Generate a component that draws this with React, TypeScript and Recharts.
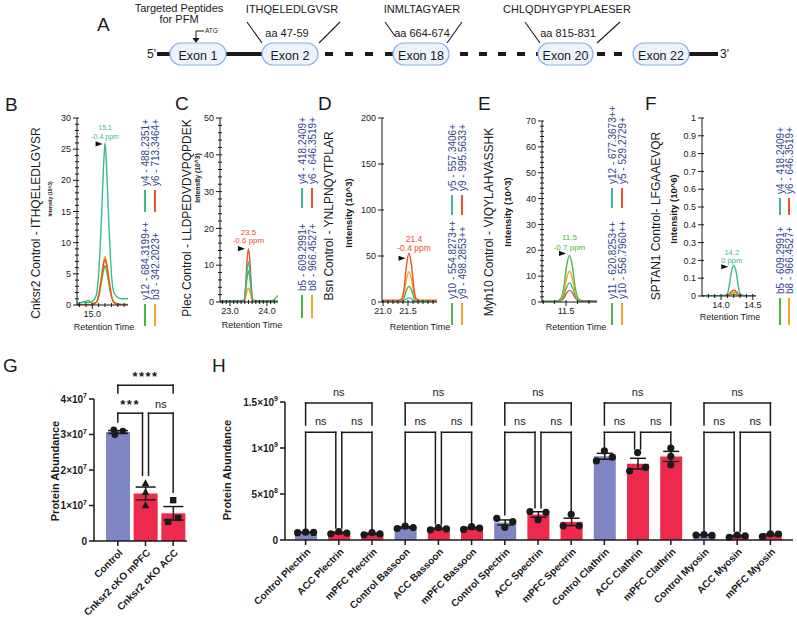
import React from 'react';
import {
  LineChart, Line, XAxis, YAxis, ReferenceDot, ReferenceLine,
  ComposedChart, Bar, Cell, ErrorBar,
} from 'recharts';

const FONT = '"Liberation Sans", Arial, Helvetica, sans-serif';
const INK = '#1a1a1a';
const TEAL = '#3dba8b';
const RED = '#e9532b';
const GREEN = '#47b548';
const ORANGE = '#f7a322';
const LEGEND_INK = '#34458c';
const CTRL = '#7f86c3';
const KO = '#ed2a4b';

// ---------- chromatograms B-F (intensity per retention time) ----------
const B_TIME = [14.88, 14.93, 14.97, 15.0, 15.03, 15.05, 15.07, 15.09, 15.1, 15.11, 15.13, 15.15, 15.17, 15.2, 15.24, 15.28];
const B_Y4 = [0.3, 0.4, 0.4, 0.6, 1.5, 5, 13, 23, 26, 23, 13, 5, 2, 1.2, 1.0, 1.0];
const B_Y6 = [0, 0, 0, 0.1, 0.4, 1.5, 4, 6.7, 7.3, 6.7, 4, 1.5, 0.4, 0.1, 0, 0];
const B_Y12 = [0.2, 0.5, 0.7, 0.3, 0.4, 1.3, 3.5, 5.7, 6.3, 5.7, 3.5, 1.3, 0.5, 0.2, 0.1, 0.1];
const B_B3 = [0, 0, 0, 0.1, 0.4, 1.6, 4.3, 7.1, 7.8, 7.1, 4.3, 1.6, 0.4, 0.1, 0, 0];
const B_IONS = ['y4 - 488.2351+', 'y6 - 713.3464+', 'y12 - 684.3199++', 'b3 - 342.2023+'];

const C_TIME = [22.73, 23.0, 23.25, 23.38, 23.42, 23.46, 23.5, 23.54, 23.58, 23.62, 23.8, 24.0, 24.15, 24.3];
const C_Y4 = [0.2, 0.2, 0.2, 0.4, 3, 8.3, 11, 8.3, 3, 0.4, 0.2, 0.2, 0.2, 0.2];
const C_Y6 = [0.3, 0.3, 0.3, 0.6, 4, 11, 14.5, 11, 4, 0.6, 0.3, 0.3, 0.3, 0.3];
const C_B5 = [0.2, 0.2, 0.2, 0.3, 2.3, 6.4, 8.5, 6.4, 2.3, 0.3, 0.2, 0.2, 0.4, 1.8];
const C_B8 = [0, 0, 0, 0.1, 1, 2.8, 3.8, 2.8, 1, 0.1, 0, 0, 0, 0];
const C_IONS = ['y4 - 418.2409+', 'y6 - 646.3519+', 'b5 - 609.2991+', 'b8 - 966.4527+'];

const D_TIME = [20.98, 21.1, 21.2, 21.3, 21.37, 21.42, 21.47, 21.52, 21.57, 21.62, 21.67, 21.75, 21.82, 21.9, 22.08];
const D_Y5 = [0.3, 0.3, 0.3, 0.3, 0.5, 1.5, 3.5, 4.5, 3.5, 1.5, 0.5, 0.4, 1.5, 0.4, 0.3];
const D_Y9 = [2, 2, 2, 2, 3, 14, 40, 53, 40, 14, 3, 2, 2, 2, 2];
const D_Y10 = [0.5, 0.5, 0.5, 0.5, 1, 4.5, 13, 17, 13, 4.5, 1, 0.5, 0.5, 0.5, 0.5];
const D_Y9PP = [1, 1, 1, 1, 1.8, 9, 25, 33, 25, 9, 1.8, 1, 1, 1, 1];
const D_IONS = ['y5 - 557.3406+', 'y9 - 995.5633+', 'y10 - 554.8273++', 'y9 - 498.2853++'];

const E_TIME = [11.29, 11.36, 11.42, 11.45, 11.48, 11.505, 11.53, 11.555, 11.58, 11.61, 11.64, 11.7, 11.77];
const E_Y12 = [0.2, 0.2, 0.2, 0.5, 2.3, 5.7, 7.4, 5.7, 2.3, 0.5, 0.2, 0.2, 0.2];
const E_Y5 = [0.1, 0.1, 0.2, 0.4, 1.4, 3.5, 4.5, 3.5, 1.5, 0.6, 0.5, 0.4, 0.3];
const E_Y11 = [0.3, 0.3, 0.4, 1.2, 5.5, 14, 18, 14, 5.5, 1.2, 0.5, 0.3, 0.3];
const E_Y10 = [0.2, 0.2, 0.3, 0.8, 3.6, 9.2, 12, 9.2, 3.6, 0.8, 0.3, 0.2, 0.2];
const E_IONS = ['y12 - 677.3673++', 'y5 - 529.2729+', 'y11 - 620.8253++', 'y10 - 556.7960++'];

const F_TIME = [13.7, 13.9, 14.05, 14.1, 14.13, 14.165, 14.2, 14.235, 14.27, 14.3, 14.35, 14.45, 14.55];
const F_Y4 = [0.002, 0.002, 0.003, 0.012, 0.06, 0.14, 0.17, 0.14, 0.06, 0.012, 0.003, 0.002, 0.002];
const F_Y6 = [0.001, 0.001, 0.001, 0.003, 0.012, 0.026, 0.032, 0.026, 0.012, 0.003, 0.001, 0.001, 0.001];
const F_B5 = [0, 0, 0, 0.001, 0.004, 0.009, 0.011, 0.009, 0.004, 0.001, 0, 0, 0];
const F_B8 = [0, 0, 0, 0.002, 0.008, 0.017, 0.021, 0.017, 0.008, 0.002, 0, 0, 0];
const F_IONS = ['y4 - 418.2409+', 'y6 - 646.3519+', 'b5 - 609.2991+', 'b8 - 966.4527+'];

// ---------- G: Cnksr2 abundance ----------
const G_GROUPS = ['Control', 'Cnksr2 cKO mPFC', 'Cnksr2 cKO ACC'];
const G_MEAN = [3.07e7, 1.34e7, 0.78e7];
const G_SEM = [0.04e7, 0.18e7, 0.19e7];
const G_REP1 = [3.13e7, 1.63e7, 1.15e7];
const G_REP2 = [3.10e7, 1.38e7, 0.65e7];
const G_REP3 = [2.99e7, 1.01e7, 0.54e7];
const G_TICKS = [0, 1e7, 2e7, 3e7, 4e7];

// ---------- H: control proteins ----------
const H_GROUPS = [
  'Control Plectrin', 'ACC Plectrin', 'mPFC Plectrin',
  'Control Bassoon', 'ACC Bassoon', 'mPFC Bassoon',
  'Control Spectrin', 'ACC Spectrin', 'mPFC Spectrin',
  'Control Clathrin', 'ACC Clathrin', 'mPFC Clathrin',
  'Control Myosin', 'ACC Myosin', 'mPFC Myosin',
];
const H_MEAN = [0.082e9, 0.078e9, 0.068e9, 0.137e9, 0.122e9, 0.129e9, 0.19e9, 0.277e9, 0.197e9, 0.91e9, 0.83e9, 0.908e9, 0.055e9, 0.043e9, 0.056e9];
const H_SEM = [0.003e9, 0.007e9, 0.007e9, 0.008e9, 0.007e9, 0.009e9, 0.028e9, 0.03e9, 0.04e9, 0.032e9, 0.058e9, 0.055e9, 0.003e9, 0.007e9, 0.01e9];
const H_LEFT = [0.08e9, 0.068e9, 0.057e9, 0.125e9, 0.11e9, 0.115e9, 0.235e9, 0.31e9, 0.155e9, 0.86e9, 0.75e9, 1.0e9, 0.054e9, 0.03e9, 0.036e9];
const H_MID = [0.085e9, 0.09e9, 0.08e9, 0.15e9, 0.135e9, 0.145e9, 0.138e9, 0.22e9, 0.28e9, 0.97e9, 0.95e9, 0.91e9, 0.06e9, 0.054e9, 0.067e9];
const H_RIGHT = [0.082e9, 0.075e9, 0.066e9, 0.135e9, 0.12e9, 0.128e9, 0.2e9, 0.3e9, 0.155e9, 0.9e9, 0.79e9, 0.815e9, 0.05e9, 0.045e9, 0.065e9];
const H_TICKS = [0, 5e8, 1e9, 1.5e9];

const steps = (from: number, to: number, step: number, skip: number[]) => {
  const out: number[] = [];
  for (let v = from; v <= to + 1e-9; v += step) {
    const r = Math.round(v * 1000) / 1000;
    if (!skip.some((s) => Math.abs(s - r) < 1e-6)) out.push(r);
  }
  return out;
};
const isIn = (arr: number[], v: number) => arr.some((a) => Math.abs(a - v) < 1e-6);

type PeakNote = {
  t: number; v: number; color: string; lines: [string, string];
  fs: number; l1: number; l2: number; tri: number; tdx: number; ldx: number;
};

type ChromProps = {
  time: number[]; series: number[][];
  xDomain: [number, number]; xMajor: number[]; xMinor: number[];
  yDomain: [number, number]; yMajor: number[]; yMinor: number[];
  axisX: number; right: number; top: number; bottom: number;
  peak: PeakNote;
};

function Chrom({ time, series, xDomain, xMajor, xMinor, yDomain, yMajor, yMinor, axisX, right, top, bottom, peak }: ChromProps) {
  const data = time.map((t, i) => ({ t, s0: series[0][i], s1: series[1][i], s2: series[2][i], s3: series[3][i] }));
  const YW = 30, MT = 8, MR = 12, XH = 30;
  const left = axisX - YW;
  const chartTop = top - MT;
  const width = right + MR - left;
  const height = bottom - chartTop + XH;
  const colors = [TEAL, RED, GREEN, ORANGE];

  const yTick = (p: any) => {
    const v = p.payload.value as number;
    const maj = isIn(yMajor, v);
    return (
      <g>
        <line x1={maj ? p.x - 4 : p.x - 2} x2={p.x + 2} y1={p.y} y2={p.y} stroke={INK} strokeWidth={1} />
        {maj && (
          <text x={p.x - 6} y={p.y} dy="0.35em" textAnchor="end" fontSize={9} fill="#222" fontFamily={FONT}>
            {String(parseFloat(v.toFixed(2)))}
          </text>
        )}
      </g>
    );
  };
  const xTick = (p: any) => {
    const v = p.payload.value as number;
    const maj = isIn(xMajor, v);
    return (
      <g>
        <line x1={p.x} x2={p.x} y1={p.y - 2} y2={maj ? p.y + 4 : p.y + 2} stroke={INK} strokeWidth={1} />
        {maj && (
          <text x={p.x} y={p.y + 12} textAnchor="middle" fontSize={9} fill="#222" fontFamily={FONT}>
            {v.toFixed(1)}
          </text>
        )}
      </g>
    );
  };

  return (
    <div style={{ position: 'absolute', left, top: chartTop }}>
      <LineChart width={width} height={height} data={data} margin={{ top: MT, right: MR, bottom: 0, left: 0 }}>
        <XAxis
          dataKey="t" type="number" domain={xDomain} allowDataOverflow
          ticks={[...xMajor, ...xMinor].sort((a, b) => a - b)} interval={0}
          tick={xTick} tickLine={false} tickSize={0} tickMargin={0} height={XH}
          axisLine={{ stroke: INK, strokeWidth: 1 }}
        />
        <YAxis
          type="number" domain={yDomain} allowDataOverflow
          ticks={[...yMajor, ...yMinor].sort((a, b) => a - b)} interval={0}
          tick={yTick} tickLine={false} tickSize={0} tickMargin={0} width={YW}
          axisLine={{ stroke: INK, strokeWidth: 1 }}
        />
        {[2, 3, 1, 0].map((k) => (
          <Line
            key={k} type="monotone" dataKey={'s' + k} stroke={colors[k]} strokeWidth={1.4}
            dot={false} activeDot={false} isAnimationActive={false}
          />
        ))}
        <ReferenceDot
          x={peak.t} y={peak.v} r={0} ifOverflow="visible"
          shape={(p: any) => {
            const tx = p.cx + peak.tdx;
            const ty = p.cy + peak.tri;
            return (
              <g fontFamily={FONT}>
                <text x={p.cx + peak.ldx} y={p.cy + peak.l1} textAnchor="middle" fontSize={peak.fs} fill={peak.color}>{peak.lines[0]}</text>
                <text x={p.cx + peak.ldx} y={p.cy + peak.l2} textAnchor="middle" fontSize={peak.fs} fill={peak.color}>{peak.lines[1]}</text>
                <path d={`M${tx - 3.5},${ty - 2.6} L${tx + 3.5},${ty} L${tx - 3.5},${ty + 2.6} Z`} fill="#111" />
              </g>
            );
          }}
        />
      </LineChart>
    </div>
  );
}

// ---------- bar panels helpers ----------
const sciTick = (p: any) => {
  const v = p.payload.value as number;
  const common = { x: p.x, y: p.y, textAnchor: 'end' as const, fontSize: 10, fontWeight: 700, fill: INK, fontFamily: FONT };
  if (v === 0) return <text {...common} dy={3.5}>0</text>;
  const e = Math.floor(Math.log10(v) + 1e-9);
  const m = parseFloat((v / Math.pow(10, e)).toFixed(2));
  return (
    <text {...common} dy={3.5}>
      {m}×10<tspan dy={-4.5} fontSize={7}>{e}</tspan>
    </text>
  );
};

const rotTick = (p: any) => {
  const ax = p.x + 3;
  const ay = p.y + 3;
  return (
    <text
      x={ax} y={ay} transform={`rotate(-45 ${ax} ${ay})`} textAnchor="end" dy="0.35em"
      fontSize={10} fontWeight={700} fill={INK} fontFamily={FONT}
    >
      {p.payload.value}
    </text>
  );
};

type Lbl = { text: string; size: number; bold?: boolean; lift: number; spacing?: number };

function seg(key: string, a: [string, number], b: [string, number], dxa: number, dxb: number, label?: Lbl) {
  return (
    <ReferenceLine
      key={key}
      segment={[{ x: a[0], y: a[1] }, { x: b[0], y: b[1] }]}
      ifOverflow="visible"
      stroke={INK}
      shape={(p: any) => (
        <g>
          <line
            x1={p.x1 + dxa} y1={p.y1} x2={p.x2 + dxb} y2={p.y2}
            stroke={INK} strokeWidth={1.5} strokeLinecap="square"
          />
          {label && (
            <text
              x={(p.x1 + dxa + p.x2 + dxb) / 2} y={p.y1 - label.lift} textAnchor="middle"
              fontSize={label.size} fontWeight={label.bold ? 700 : 400} letterSpacing={label.spacing || 0}
              fill={INK} fontFamily={FONT}
            >
              {label.text}
            </text>
          )}
        </g>
      )}
    />
  );
}

function bracket(id: string, l: string, r: string, top: number, footL: number, footR: number, dxl: number, dxr: number, label: Lbl) {
  return [
    seg(id + 'h', [l, top], [r, top], dxl, dxr, label),
    seg(id + 'l', [l, footL], [l, top], dxl, dxl),
    seg(id + 'r', [r, footR], [r, top], dxr, dxr),
  ];
}

function PanelG() {
  const data = G_GROUPS.map((g, i) => ({ g, mean: G_MEAN[i], sem: G_SEM[i], r0: G_REP1[i], r1: G_REP2[i], r2: G_REP3[i] }));
  const foot = (i: number) => Math.max(G_REP1[i], G_REP2[i], G_REP3[i], G_MEAN[i] + G_SEM[i]) + 0.22e7;
  const dx = [[-4, 5, -3], [0, 0, 0], [0, 5, -5]];
  const marker = (rep: number) => (p: any) => {
    const { cx, cy, index } = p;
    const k = `g${rep}-${index}`;
    if (cx == null || cy == null) return <g key={k} />;
    const x = cx + dx[index][rep];
    if (index === 0) return <circle key={k} cx={x} cy={cy} r={3.3} fill={INK} />;
    if (index === 1) return <path key={k} d={`M${x},${cy - 4} L${x + 3.8},${cy + 3} L${x - 3.8},${cy + 3} Z`} fill={INK} />;
    return <rect key={k} x={x - 3.2} y={cy - 3.2} width={6.4} height={6.4} fill={INK} />;
  };
  const [c, m, a] = G_GROUPS;
  return (
    <div style={{ position: 'absolute', left: 44, top: 354 }}>
      <ComposedChart width={147} height={267} data={data} margin={{ top: 45, right: 4, bottom: 0, left: 0 }}>
        <XAxis
          dataKey="g" type="category" interval={0} padding={{ left: 10, right: 0 }} height={80}
          tick={rotTick} tickSize={5} tickMargin={2}
          axisLine={{ stroke: INK, strokeWidth: 1.5 }} tickLine={{ stroke: INK, strokeWidth: 1.5 }}
        />
        <YAxis
          type="number" domain={[0, 4e7]} ticks={G_TICKS} interval={0} width={50}
          tick={sciTick} tickSize={5} tickMargin={2}
          axisLine={{ stroke: INK, strokeWidth: 1.5 }} tickLine={{ stroke: INK, strokeWidth: 1.5 }}
        />
        <Bar dataKey="mean" barSize={24} isAnimationActive={false}>
          {data.map((d, i) => <Cell key={d.g} fill={i === 0 ? CTRL : KO} />)}
          <ErrorBar dataKey="sem" width={10} stroke={INK} strokeWidth={1.5} direction="y" />
        </Bar>
        {[0, 1, 2].map((r) => (
          <Line key={r} dataKey={'r' + r} stroke="none" dot={marker(r)} activeDot={false} isAnimationActive={false} />
        ))}
        {bracket('g4', c, a, 4.39e7, 4.17e7, 4.17e7, 0, 0, { text: '****', size: 13, bold: true, lift: 4, spacing: 1.5 })}
        {bracket('g3', c, m, 3.6e7, foot(0), foot(1), 0, -3, { text: '***', size: 13, bold: true, lift: 4, spacing: 1.5 })}
        {bracket('gn', m, a, 3.6e7, foot(1), foot(2), 3, 0, { text: 'ns', size: 11, lift: 5 })}
      </ComposedChart>
    </div>
  );
}

function PanelH() {
  const data = H_GROUPS.map((g, i) => ({ g, mean: H_MEAN[i], sem: H_SEM[i], r0: H_LEFT[i], r1: H_MID[i], r2: H_RIGHT[i] }));
  const foot = (i: number) => Math.max(H_LEFT[i], H_MID[i], H_RIGHT[i], H_MEAN[i] + H_SEM[i]) + 0.04e9;
  const marker = (rep: number) => (p: any) => {
    const { cx, cy, index } = p;
    const k = `h${rep}-${index}`;
    if (cx == null || cy == null) return <g key={k} />;
    const spread = index === 11 ? 0 : 8;
    return <circle key={k} cx={cx + (rep - 1) * spread} cy={cy} r={3.6} fill={INK} />;
  };
  const brackets: React.ReactNode[] = [];
  for (let g = 0; g < 5; g++) {
    const [c, a, m] = [H_GROUPS[3 * g], H_GROUPS[3 * g + 1], H_GROUPS[3 * g + 2]];
    const lbl: Lbl = { text: 'ns', size: 11, lift: 7 };
    brackets.push(...bracket(`hb${g}`, c, m, 1.49e9, 1.25e9, 1.25e9, 0, 0, lbl));
    brackets.push(...bracket(`hl${g}`, c, a, 1.17e9, foot(3 * g), foot(3 * g + 1), 0, -3, lbl));
    brackets.push(...bracket(`hr${g}`, a, m, 1.17e9, foot(3 * g + 1), foot(3 * g + 2), 3, 0, lbl));
  }
  return (
    <div style={{ position: 'absolute', left: 235, top: 352 }}>
      <ComposedChart width={560} height={273} data={data} margin={{ top: 50, right: 2, bottom: 0, left: 0 }}>
        <XAxis
          dataKey="g" type="category" interval={0} padding={{ left: 4, right: 6 }} height={85}
          tick={rotTick} tickSize={5} tickMargin={2}
          axisLine={{ stroke: INK, strokeWidth: 1.5 }} tickLine={{ stroke: INK, strokeWidth: 1.5 }}
        />
        <YAxis
          type="number" domain={[0, 1.5e9]} ticks={H_TICKS} interval={0} width={50}
          tick={sciTick} tickSize={5} tickMargin={2}
          axisLine={{ stroke: INK, strokeWidth: 1.5 }} tickLine={{ stroke: INK, strokeWidth: 1.5 }}
        />
        <Bar dataKey="mean" barSize={22} isAnimationActive={false}>
          {data.map((d, i) => <Cell key={d.g} fill={i % 3 === 0 ? CTRL : KO} />)}
          <ErrorBar dataKey="sem" width={8} stroke={INK} strokeWidth={1.5} direction="y" />
        </Bar>
        {[0, 1, 2].map((r) => (
          <Line key={r} dataKey={'r' + r} stroke="none" dot={marker(r)} activeDot={false} isAnimationActive={false} />
        ))}
        {brackets}
      </ComposedChart>
    </div>
  );
}

// ---------- static text & schematic ----------
const VText = ({ x, y, size, bold, anchor = 'middle', fill = INK, children }: any) => (
  <text
    transform={`translate(${x},${y}) rotate(-90)`} textAnchor={anchor} dominantBaseline="central"
    fontSize={size} fontWeight={bold ? 700 : 400} fill={fill}
  >
    {children}
  </text>
);

function Legend({ x1, x2, l1, l2, ions }: { x1: number; x2: number; l1: [number, number]; l2: [number, number]; ions: string[] }) {
  const items = [
    { x: x1, line: l1, text: ions[0], color: TEAL },
    { x: x2, line: l1, text: ions[1], color: RED },
    { x: x1, line: l2, text: ions[2], color: GREEN },
    { x: x2, line: l2, text: ions[3], color: ORANGE },
  ];
  return (
    <g>
      {items.map((it, i) => (
        <g key={i}>
          <line x1={it.x} x2={it.x} y1={it.line[0]} y2={it.line[1]} stroke={it.color} strokeWidth={2} />
          <VText x={it.x} y={it.line[0] - 4} size={10} anchor="start" fill={LEGEND_INK}>{it.text}</VText>
        </g>
      ))}
    </g>
  );
}

function Overlay() {
  const exons: [number, number, string][] = [[170, 56, 'Exon 1'], [262, 56, 'Exon 2'], [393, 56, 'Exon 18'], [538, 55, 'Exon 20'], [633, 56, 'Exon 22']];
  const peptides: { text: string; cx: number; aa: string; acx: number; lines: number[][] }[] = [
    { text: 'ITHQELEDLGVSR', cx: 292, aa: 'aa 47-59', acx: 287, lines: [[247, 22, 262, 43], [340, 22, 319, 43]] },
    { text: 'INMLTAGYAER', cx: 422, aa: 'aa 664-674', acx: 422, lines: [[385, 22, 395, 36], [462, 22, 447, 43]] },
    { text: 'CHLQDHYGPYPLAESER', cx: 567, aa: 'aa 815-831', acx: 568, lines: [[525, 22, 540, 43], [620, 22, 597, 43]] },
  ];
  return (
    <svg width={797} height={625} style={{ position: 'absolute', left: 0, top: 0 }} fontFamily={FONT}>
      {/* A: gene schematic */}
      <g fill={INK}>
        <text x={97} y={31} fontSize={19}>A</text>
        <text x={179} y={12} fontSize={11} textAnchor="middle">Targeted Peptides</text>
        <text x={179} y={23} fontSize={11} textAnchor="middle">for PFM</text>
        <path d="M204,31 H196 V39" stroke={INK} strokeWidth={1} fill="none" />
        <path d="M192.5,38 L199.5,38 L196,43 Z" fill={INK} />
        <text x={205} y={33} fontSize={6.5}>ATG</text>
        <text x={147} y={58} fontSize={12}>5'</text>
        <text x={720} y={58} fontSize={12}>3'</text>
        <g stroke={INK} strokeWidth={4}>
          <line x1={157} y1={54} x2={170} y2={54} />
          <line x1={226} y1={54} x2={262} y2={54} />
          <line x1={689} y1={54} x2={718} y2={54} />
          <line x1={325} y1={54} x2={393} y2={54} strokeDasharray="8 12" />
          <line x1={460} y1={54} x2={538} y2={54} strokeDasharray="8 11" />
          <line x1={597} y1={54} x2={630} y2={54} strokeDasharray="8 9" />
        </g>
        {exons.map(([x, w, label]) => (
          <g key={label}>
            <rect x={x} y={43} width={w} height={22} rx={11} fill="#edf3fb" stroke="#8db4e2" strokeWidth={1.2} />
            <text x={x + w / 2} y={59.5} textAnchor="middle" fontSize={12.5} fill={INK}>{label}</text>
          </g>
        ))}
        {peptides.map((p) => (
          <g key={p.text}>
            <text x={p.cx} y={13} fontSize={11} textAnchor="middle">{p.text}</text>
            <text x={p.acx} y={37} fontSize={11} textAnchor="middle">{p.aa}</text>
            {p.lines.map((l, i) => (
              <line key={i} x1={l[0]} y1={l[1]} x2={l[2]} y2={l[3]} stroke={INK} strokeWidth={1.1} />
            ))}
          </g>
        ))}
      </g>

      {/* panel letters */}
      <g fill={INK} fontSize={19}>
        <text x={5} y={111}>B</text>
        <text x={175} y={110}>C</text>
        <text x={318} y={110}>D</text>
        <text x={478} y={110}>E</text>
        <text x={645} y={110}>F</text>
        <text x={3} y={372}>G</text>
        <text x={212} y={372}>H</text>
      </g>

      {/* chromatogram titles */}
      <VText x={36} y={223} size={12}>Cnksr2 Control - ITHQELEDLGVSR</VText>
      <VText x={187} y={218} size={12}>Plec Control - LLDPEDVDVPQPDEK</VText>
      <VText x={329} y={216} size={12}>Bsn Control - YNLPNQVTPLAR</VText>
      <VText x={489} y={222} size={12}>Myh10 Control - VIQYLAHVASSHK</VText>
      <VText x={656} y={216} size={12}>SPTAN1 Control- LFGAAEVQR</VText>

      <VText x={50} y={199} size={4.8} bold>Intensity (10^3)</VText>
      <VText x={197} y={178} size={6.8} bold>Intensity (10^3)</VText>
      <VText x={348} y={213} size={9.5} bold>Intensity (10^3)</VText>
      <VText x={507} y={212} size={9.5} bold>Intensity (10^3)</VText>
      <VText x={673} y={209} size={9.5} bold>Intensity (10^6)</VText>

      <g fontSize={9} fill="#222" textAnchor="middle">
        <text x={104} y={330}>Retention Time</text>
        <text x={252} y={328}>Retention Time</text>
        <text x={420} y={330}>Retention Time</text>
        <text x={576} y={330}>Retention Time</text>
        <text x={730} y={320}>Retention Time</text>
      </g>

      <Legend x1={145} x2={155} l1={[190, 212]} l2={[304, 326]} ions={B_IONS} />
      <Legend x1={302} x2={312} l1={[188, 208]} l2={[295, 318]} ions={C_IONS} />
      <Legend x1={452} x2={462} l1={[195, 215]} l2={[303, 325]} ions={D_IONS} />
      <Legend x1={612} x2={622} l1={[188, 208]} l2={[303, 325]} ions={E_IONS} />
      <Legend x1={780} x2={789} l1={[198, 215]} l2={[298, 325]} ions={F_IONS} />

      <VText x={55} y={471} size={11} bold>Protein Abundance</VText>
      <VText x={227} y={470} size={11} bold>Protein Abundance</VText>
    </svg>
  );
}

export default function App() {
  return (
    <div
      style={{
        position: 'absolute', left: 0, top: 0, width: 797, height: 625,
        background: '#fff', fontFamily: FONT, overflow: 'hidden',
      }}
    >
      <Overlay />
      <Chrom
        time={B_TIME} series={[B_Y4, B_Y6, B_Y12, B_B3]}
        xDomain={[14.88, 15.28]} xMajor={[15.0]} xMinor={steps(14.9, 15.25, 0.05, [15.0])}
        yDomain={[0, 30]} yMajor={[0, 5, 10, 15, 20, 25, 30]} yMinor={steps(1, 29, 1, [5, 10, 15, 20, 25])}
        axisX={77} right={128} top={118} bottom={305}
        peak={{ t: 15.1, v: 26, color: TEAL, lines: ['15.1', '-0.4 ppm'], fs: 7, l1: -12.5, l2: -3.5, tri: 1, tdx: -6, ldx: 0 }}
      />
      <Chrom
        time={C_TIME} series={[C_Y4, C_Y6, C_B5, C_B8]}
        xDomain={[22.73, 24.3]} xMajor={[23.0, 24.0]} xMinor={steps(22.8, 24.2, 0.1, [23.0, 24.0])}
        yDomain={[0, 50]} yMajor={[0, 10, 20, 30, 40, 50]} yMinor={steps(2, 48, 2, [10, 20, 30, 40])}
        axisX={220} right={278} top={118} bottom={302}
        peak={{ t: 23.5, v: 14.5, color: RED, lines: ['23.5', '-0.6 ppm'], fs: 8, l1: -14, l2: -6, tri: 0, tdx: -7, ldx: 0 }}
      />
      <Chrom
        time={D_TIME} series={[D_Y5, D_Y9, D_Y10, D_Y9PP]}
        xDomain={[20.98, 22.08]} xMajor={[21.0, 21.5]} xMinor={steps(21.1, 22.0, 0.1, [21.5])}
        yDomain={[0, 200]} yMajor={[0, 50, 100, 150, 200]} yMinor={[]}
        axisX={382} right={437} top={118} bottom={302}
        peak={{ t: 21.52, v: 53, color: RED, lines: ['21.4', '-0.4 ppm'], fs: 8.5, l1: -11, l2: -2, tri: 5, tdx: -7, ldx: 5 }}
      />
      <Chrom
        time={E_TIME} series={[E_Y12, E_Y5, E_Y11, E_Y10]}
        xDomain={[11.29, 11.77]} xMajor={[11.5]} xMinor={[11.3, 11.4, 11.6, 11.7]}
        yDomain={[0, 70]} yMajor={[0, 10, 20, 30, 40, 50, 60, 70]} yMinor={steps(2, 68, 2, [10, 20, 30, 40, 50, 60])}
        axisX={542} right={597} top={121} bottom={302}
        peak={{ t: 11.53, v: 18, color: GREEN, lines: ['11.5', '-0.7 ppm'], fs: 8, l1: -15, l2: -5, tri: -2, tdx: -7, ldx: 0 }}
      />
      <Chrom
        time={F_TIME} series={[F_Y4, F_Y6, F_B5, F_B8]}
        xDomain={[13.7, 14.55]} xMajor={[14.0, 14.5]} xMinor={steps(13.8, 14.4, 0.1, [14.0])}
        yDomain={[0, 1]} yMajor={[0, 0.1, 0.2, 0.3, 0.4, 0.5, 0.6, 0.7, 0.8, 0.9, 1]} yMinor={[]}
        axisX={702} right={756} top={118} bottom={296}
        peak={{ t: 14.2, v: 0.17, color: TEAL, lines: ['14.2', '0 ppm'], fs: 7.5, l1: -11, l2: -3, tri: 1, tdx: -9, ldx: -2 }}
      />
      <PanelG />
      <PanelH />
    </div>
  );
}
